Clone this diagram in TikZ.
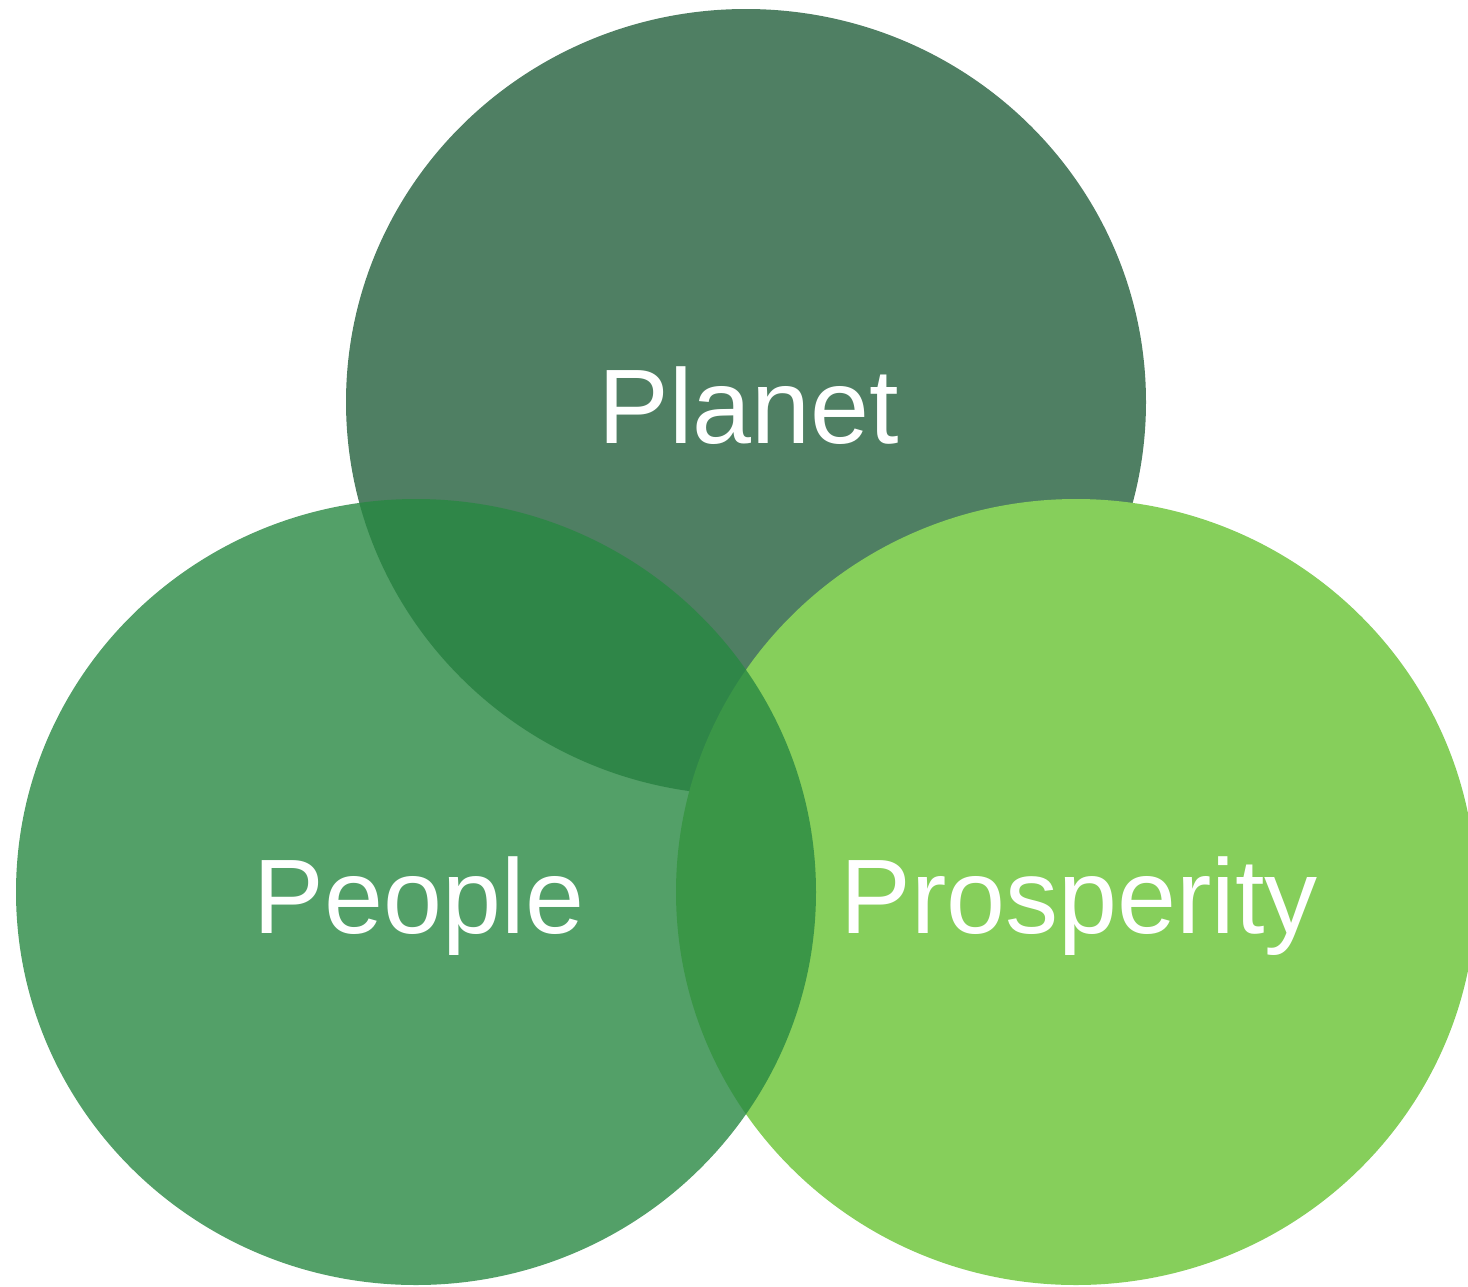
\documentclass[tikz,border=0pt]{standalone}
\usepackage{fontspec}
\setmainfont{Liberation Sans}
\usepackage{tikz}
\usetikzlibrary{shapes.geometric}

\definecolor{planetgreen}{RGB}{79,127,99}
\definecolor{peoplegreen}{RGB}{40,136,66}
\definecolor{prospgreen}{RGB}{134,207,91}

\begin{document}
\begin{tikzpicture}[x=1pt, y=-1pt,
    blob/.style={ellipse, draw=none, inner sep=0pt, minimum width=800pt, minimum height=786pt},
    word/.style={text=white, anchor=base, font=\fontsize{106}{120}\selectfont}]
                	\useasboundingbox (0,0) rectangle (1468,1286);
                	\node[blob, fill=planetgreen] (planet) at (746,402) {};
                	\node[blob, fill=prospgreen] (prosperity) at (1076,892) {};
                	\node[blob, fill=peoplegreen, fill opacity=0.8] (people) at (416,892) {};
                	
                	\node[word] (planettext) at ([xshift=3pt, yshift=-41pt]planet.center) {Planet};
                	\node[word] (peopletext) at ([xshift=3pt, yshift=-41pt]people.center) {People};
                	\node[word] (prosperitytext) at ([xshift=3pt, yshift=-41pt]prosperity.center) {Prosperity};
                \end{tikzpicture}
\end{document}
